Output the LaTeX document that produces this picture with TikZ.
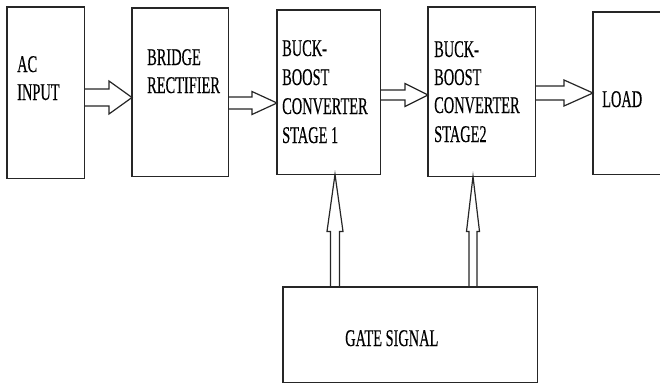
\documentclass[tikz,border=0pt]{standalone}
\usepackage{fontspec}
\setmainfont{Liberation Serif}[FakeStretch=0.6,FakeBold=0.3]
\usetikzlibrary{calc}
\newcommand\harrow[6]{%
\draw[arr] let \p1=(#1.east), \p2=(#2.west) in
 (\x1,{#3-#4}) -- (\x2-#6,{#3-#4}) -- (\x2-#6,{#3-#5}) -- (\x2,{#3})
 -- (\x2-#6,{#3+#5}) -- (\x2-#6,{#3+#4}) -- (\x1,{#3+#4});}
\newcommand\varrow[6]{%
\draw[arr] let \p1=(#1.north), \p2=(#2.south) in
 ({#3-#4},\y1) -- ({#3-#4},\y2-#6) -- ({#3-#5},\y2-#6) -- (#3,\y2)
 -- ({#3+#5},\y2-#6) -- ({#3+#4},\y2-#6) -- ({#3+#4},\y1);}
\begin{document}
\begin{tikzpicture}[x=1pt,y=-1pt,
  blk/.style={draw=black!85, line width=1.4pt, anchor=north west, inner sep=0pt},
  lbl/.style={anchor=base west, inner sep=0pt, font=\fontsize{24}{29}\selectfont, text=black},
  arr/.style={draw=black!85, line width=1.2pt, line join=miter, fill=white}]
\useasboundingbox (0,0) rectangle (660,383);
% box placeholders (for anchors)
\path (7,7) node[blk, draw=none, minimum width=76pt, minimum height=170pt] (ac) {};
\path (132,8) node[blk, draw=none, minimum width=95pt, minimum height=167pt] (br) {};
\path (277,10) node[blk, draw=none, minimum width=102pt, minimum height=163pt] (s1) {};
\path (428,7) node[blk, draw=none, minimum width=106pt, minimum height=168pt] (s2) {};
\path (593,12) node[blk, draw=none, minimum width=80pt, minimum height=161pt] (ld) {};
\path (283,287) node[blk, draw=none, minimum width=253pt, minimum height=94pt] (gate) {};
% block arrows
\harrow{ac}{br}{97.5}{8.5}{16.5}{23}
\harrow{br}{s1}{103}{6}{11.5}{25}
\harrow{s1}{s2}{95}{5}{11.5}{23}
\harrow{s2}{ld}{93}{7}{13}{29}
\varrow{gate}{s1}{335}{4.5}{8}{57}
\varrow{gate}{s2}{473}{4}{6.5}{55}
% boxes
\foreach \n in {ac,br,s1,s2,ld,gate}
  \draw[draw=black!85, line width=1.4pt] (\n.north west) rectangle (\n.south east);
% texts
\node[lbl] (t1a) at (17,72) {AC};
\node[lbl] (t1b) at (17,100) {INPUT};
\node[lbl] (t2a) at (147,65) {BRIDGE};
\node[lbl] (t2b) at (147,93) {RECTIFIER};
\node[lbl] (t3a) at (282,56) {BUCK-};
\node[lbl] (t3b) at (282,85) {BOOST};
\node[lbl] (t3c) at (282,114) {CONVERTER};
\node[lbl] (t3d) at (282,143) {STAGE 1};
\node[lbl] (t4a) at (434,57) {BUCK-};
\node[lbl] (t4b) at (434,85) {BOOST};
\node[lbl] (t4c) at (434,113) {CONVERTER};
\node[lbl] (t4d) at (434,142) {STAGE2};
\node[lbl] (t5) at (602,107) {LOAD};
\node[lbl] (t6) at (345,346) {GATE SIGNAL};
\end{tikzpicture}
\end{document}
